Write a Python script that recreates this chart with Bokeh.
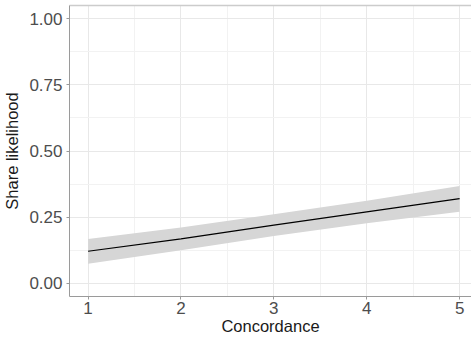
from bokeh.plotting import figure
from bokeh.models import Range1d, FixedTicker, LinearAxis, ColumnDataSource
from bokeh.embed import file_html
from bokeh.resources import INLINE

concordance = [1, 2, 3, 4, 5]
share_fit = [0.121, 0.168, 0.220, 0.270, 0.320]
share_lower = [0.074, 0.125, 0.179, 0.227, 0.270]
share_upper = [0.167, 0.211, 0.261, 0.312, 0.368]

x_ticks = [1, 2, 3, 4, 5]
y_ticks = [0.0, 0.25, 0.5, 0.75, 1.0]
y_tick_labels = {0.0: "0.00", 0.25: "0.25", 0.5: "0.50", 0.75: "0.75", 1.0: "1.00"}

src = ColumnDataSource(dict(x=concordance, y=share_fit, lo=share_lower, hi=share_upper))

FONT = "Liberation Sans"

p = figure(width=471, height=337, output_backend="svg", toolbar_location=None,
           x_range=Range1d(0.8, 5.128), y_range=Range1d(-0.05, 1.05),
           min_border_left=0, min_border_right=0, min_border_top=5, min_border_bottom=0)
p.background_fill_color = "white"
p.border_fill_color = "white"
p.outline_line_color = None

p.varea(x="x", y1="lo", y2="hi", source=src, fill_color="#d6d6d6", fill_alpha=1.0)
p.line(x="x", y="y", source=src, line_color="black", line_width=1.2)

for ax in (p.xaxis[0], p.yaxis[0]):
    ax.axis_line_color = "#9a9a9a"
    ax.axis_line_width = 1
    ax.major_tick_line_color = "#9a9a9a"
    ax.major_tick_in = 0
    ax.major_tick_out = 3
    ax.minor_tick_line_color = None
    ax.major_label_text_font = FONT
    ax.major_label_text_font_size = "17px"
    ax.major_label_text_color = "#4d4d4d"
    ax.axis_label_text_font = FONT
    ax.axis_label_text_font_size = "16.5px"
    ax.axis_label_text_font_style = "normal"
    ax.axis_label_text_color = "#1a1a1a"

p.xaxis.ticker = FixedTicker(ticks=x_ticks, minor_ticks=[1.5, 2.5, 3.5, 4.5])
p.yaxis.ticker = FixedTicker(ticks=y_ticks, minor_ticks=[0.125, 0.375, 0.625, 0.875])
p.yaxis.major_label_overrides = y_tick_labels
p.xaxis.axis_label = "Concordance"
p.yaxis.axis_label = "Share likelihood"
p.xaxis.major_label_standoff = 1
p.xaxis.axis_label_standoff = 0
p.yaxis.major_label_standoff = 3
p.yaxis.axis_label_standoff = 5

top = LinearAxis(ticker=FixedTicker(ticks=[]), axis_line_color="#cccccc", axis_line_width=1.5,
                 major_tick_line_color=None, minor_tick_line_color=None,
                 major_label_text_font_size="0px", major_label_standoff=0)
p.add_layout(top, "above")

for g in (p.xgrid[0], p.ygrid[0]):
    g.grid_line_color = "#e8e8e8"
    g.grid_line_width = 1
    g.minor_grid_line_color = "#f2f2f2"
    g.minor_grid_line_width = 1

open("out.html", "w").write(file_html(p, INLINE))
